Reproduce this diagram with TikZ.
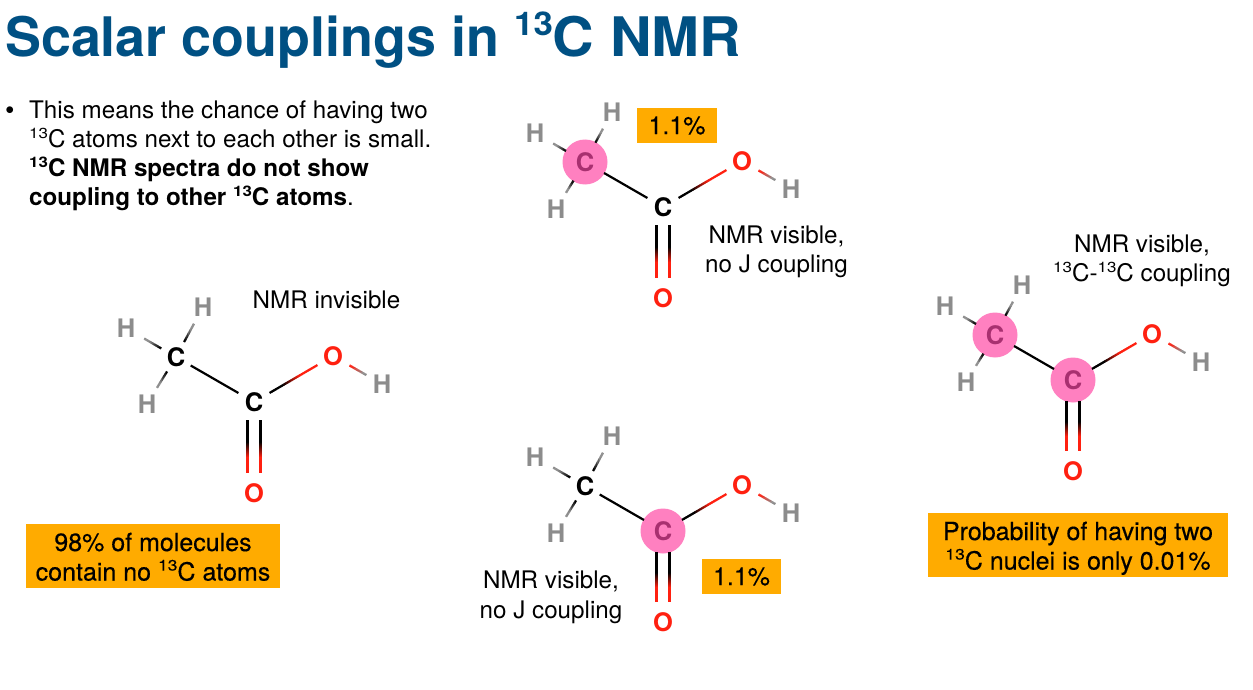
\documentclass[tikz,border=0pt]{standalone}
\usepackage{fontspec}
\setmainfont{TeX Gyre Heros}
\newfontfamily\medfont[FakeBold=0.35]{TeX Gyre Heros}
\usetikzlibrary{calc}
\definecolor{titleblue}{RGB}{0,80,131}
\definecolor{tagorange}{RGB}{255,171,0}
\definecolor{pinkdot}{RGB}{255,128,192}
\definecolor{pinkletter}{RGB}{168,48,112}
\definecolor{atomred}{RGB}{255,32,16}
\definecolor{atomgrey}{RGB}{140,140,140}
\newcommand{\isot}[1]{\raisebox{0.40em}{\scalebox{0.7}[0.6]{#1}}}
\newcommand{\isotT}[1]{\raisebox{0.40em}{\scalebox{0.64}[0.6]{#1}}}
\tikzset{
  x=1pt,y=-1pt,
  atomtext/.style={inner sep=0pt,font=\fontsize{25.5}{25}\selectfont\bfseries},
  catom/.style={atomtext,text=black},
  catompink/.style={atomtext,text=pinkletter},
  oatom/.style={atomtext,text=atomred},
  hatom/.style={atomtext,text=atomgrey},
  pinkcircle/.style={circle,fill=pinkdot,minimum size=45pt,inner sep=0pt},
  tagbox/.style={fill=tagorange,inner sep=0pt,align=center,text=black,font=\fontsize{25}{29.5}\medfont},
  label/.style={inner sep=0pt,align=center,text=black,font=\fontsize{24.2}{29.5}\selectfont},
  bullettext/.style={inner sep=0pt,align=left,anchor=north west,text=black,font=\fontsize{24.2}{29}\selectfont},
  titletext/.style={inner sep=0pt,anchor=base west,text=titleblue,font=\fontsize{54.5}{60}\selectfont\bfseries},
}
% gradient bond: from first to second coordinate, colour A up to fraction #5, colour B from #6
\newcommand{\gradbond}[6]{%
  \foreach \i in {0,...,23}{%
    \pgfmathsetmacro{\ta}{\i/24}%
    \pgfmathsetmacro{\tb}{min(1,(\i+1.2)/24)}%
    \pgfmathsetmacro{\mixp}{100*max(0,min(1,(\ta-#5)/(#6-#5)))}%
    \colorlet{bondmix}{#4!\mixp!#3}%
    \draw[bondmix,line width=2.2pt] ($(#1)!\ta!(#2)$) -- ($(#1)!\tb!(#2)$);
  }%
}
% vertical half of a C=O double bond, black at the top running to red at the bottom
\newcommand{\vertbond}[2]{%
  \fill[black] ($(#1)+(-1.1,0)$) rectangle ($(#1)!0.42!(#2)+(1.1,0)$);
  \shade[top color=black,bottom color=atomred] ($(#1)!0.41!(#2)+(-1.1,0)$) rectangle ($(#1)!0.7!(#2)+(1.1,0)$);
  \fill[atomred] ($(#1)!0.69!(#2)+(-1.1,0)$) rectangle ($(#2)+(1.1,0)$);
}
% #1 name, #2 x, #3 y of carbonyl carbon, #4 methyl pink?, #5 carbonyl pink?
\newcommand{\acetic}[5]{%
  \ifnum#4=1 \node[pinkcircle] (#1-dotm) at (#2-78,#3-45) {}; \def\gapm{22pt}\def\stylem{catompink}\else \def\gapm{17pt}\def\stylem{catom}\fi
  \ifnum#5=1 \node[pinkcircle] (#1-dotk) at (#2,#3) {}; \def\gapk{22pt}\def\stylek{catompink}\def\dblgap{21}\else \def\gapk{18pt}\def\stylek{catom}\def\dblgap{18}\fi
  \node[\stylek] (#1-ck) at (#2,#3) {C};
  \node[\stylem] (#1-cm) at (#2-78,#3-45) {C};
  \node[oatom] (#1-oh) at (#2+79,#3-46) {O};
  \node[hatom] (#1-ho) at (#2+128,#3-18) {H};
  \node[oatom] (#1-od) at (#2,#3+91) {O};
  \node[hatom] (#1-h1) at (#2-128,#3-74) {H};
  \node[hatom] (#1-h2) at (#2-51,#3-95) {H};
  \node[hatom] (#1-h3) at (#2-107,#3+2) {H};
  \coordinate (#1-s) at ($(#1-cm)!\gapm!(#1-ck)$);
  \coordinate (#1-e) at ($(#1-ck)!\gapk!(#1-cm)$);
  \draw[black,line width=2.2pt] (#1-s) -- (#1-e);
  \coordinate (#1-s) at ($(#1-ck)!\gapk!(#1-oh)$);
  \coordinate (#1-e) at ($(#1-oh)!18pt!(#1-ck)$);
  \gradbond{#1-s}{#1-e}{black}{atomred}{0.25}{0.6}
  \coordinate (#1-s) at ($(#1-oh)!19pt!(#1-ho)$);
  \coordinate (#1-e) at ($(#1-ho)!18pt!(#1-oh)$);
  \gradbond{#1-s}{#1-e}{atomred}{atomgrey}{0.1}{0.8}
  \coordinate (#1-s) at ($(#1-cm)!\gapm!(#1-h1)$);
  \coordinate (#1-e) at ($(#1-h1)!21pt!(#1-cm)$);
  \gradbond{#1-s}{#1-e}{black}{atomgrey}{0.1}{0.7}
  \coordinate (#1-s) at ($(#1-cm)!\gapm!(#1-h2)$);
  \coordinate (#1-e) at ($(#1-h2)!19pt!(#1-cm)$);
  \gradbond{#1-s}{#1-e}{black}{atomgrey}{0.1}{0.7}
  \coordinate (#1-s) at ($(#1-cm)!\gapm!(#1-h3)$);
  \coordinate (#1-e) at ($(#1-h3)!19pt!(#1-cm)$);
  \gradbond{#1-s}{#1-e}{black}{atomgrey}{0.1}{0.7}
  \coordinate (#1-s) at ($(#1-ck)+(-6.5,\dblgap)$);
  \coordinate (#1-e) at ($(#1-od)+(-6.5,-20)$);
  \vertbond{#1-s}{#1-e}
  \coordinate (#1-s) at ($(#1-ck)+(6.5,\dblgap)$);
  \coordinate (#1-e) at ($(#1-od)+(6.5,-20)$);
  \vertbond{#1-s}{#1-e}
}
\begin{document}
\begin{tikzpicture}
\useasboundingbox (0,0) rectangle (1253,690);
\fill[white] (0,0) rectangle (1253,690);
\node[titletext] (title) at (5,57) {\scalebox{0.988}[1]{Scalar couplings in} \isotT{13}\scalebox{1.055}[1]{C NMR}};
\node[inner sep=0pt,anchor=base west,font=\fontsize{27}{29}\selectfont] (bullet) at (5,120) {•};
\node[bullettext] (intro) at (29,101) {This means the chance of having two\\\isot{13}C atoms next to each other is small.\\\textbf{\isot{13}C NMR spectra do not show}\\\textbf{coupling to other \isot{13}C atoms}.};
\acetic{left}{254}{402}{0}{0}
\acetic{top}{663}{207}{1}{0}
\acetic{bot}{663}{531}{0}{1}
\acetic{right}{1073}{380}{1}{1}
\node[label] (l1) at (326.5,300) {NMR invisible};
\node[label] (l2) at (776.5,252) {NMR visible,\\no J coupling};
\node[label] (l3) at (551,597.5) {NMR visible,\\no J coupling};
\node[label] (l4) at (1142,261) {NMR visible,\\\isot{13}C-\isot{13}C coupling};
\node[tagbox,minimum width=80pt,minimum height=35pt] (t1) at (677,125.5) {1.1\%};
\node[tagbox,minimum width=79pt,minimum height=35pt] (t2) at (741.5,576.5) {1.1\%};
\node[tagbox,minimum width=254pt,minimum height=64pt] (t3) at (153,556) {\rule{0pt}{20pt}98\% of molecules\\contain no \isot{13}C atoms};
\node[tagbox,minimum width=300pt,minimum height=64pt] (t4) at (1078,545) {\rule{0pt}{25pt}Probability of having two\\\isot{13}C nuclei is only 0.01\%};
\end{tikzpicture}
\end{document}
